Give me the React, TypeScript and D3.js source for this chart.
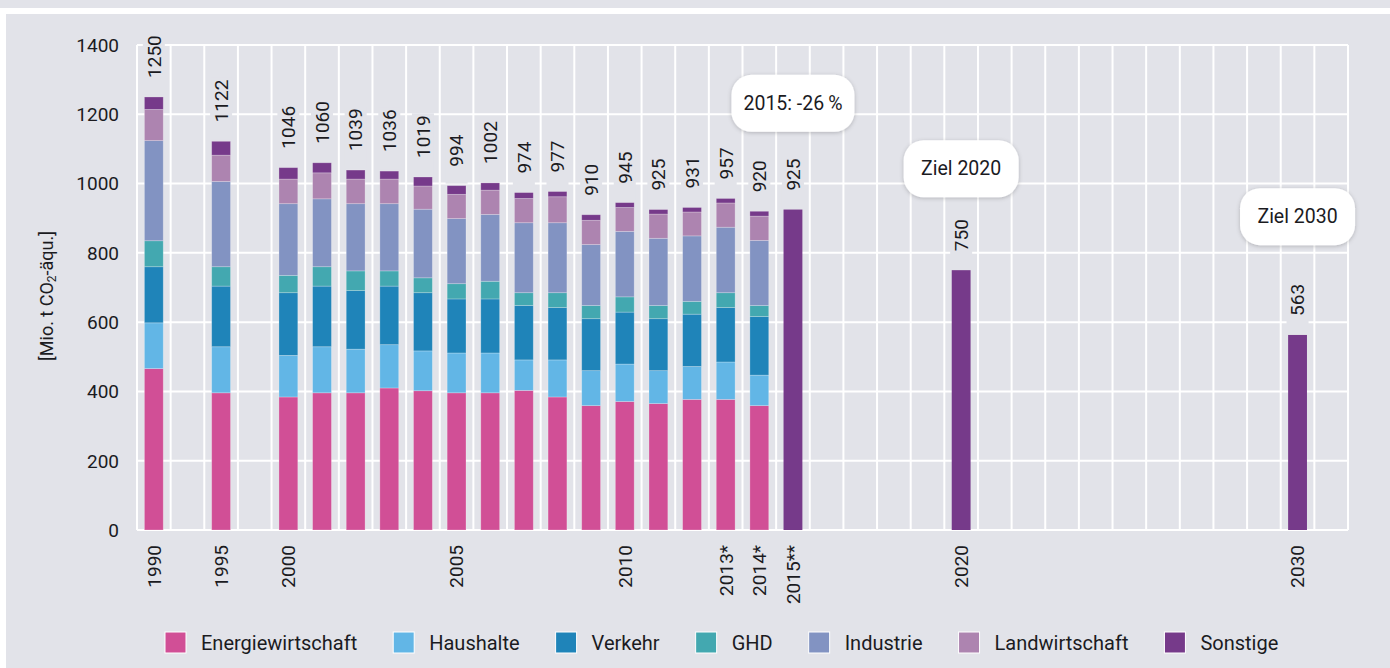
import * as d3 from "d3";
import { useEffect, useRef } from "react";

const BG = "#e2e3e9";
const TEXT = "#1b1b1f";
const FONT = "Roboto, 'Noto Sans', sans-serif";

// stacked years (bottom to top: Energiewirtschaft ... Sonstige)
const stackYears = ["1990", "1995", "2000", "2001", "2002", "2003", "2004", "2005", "2006", "2007", "2008", "2009", "2010", "2011", "2012", "2013", "2014"];
const energiewirtschaft = [466, 396, 384, 396, 396, 410, 402, 396, 396, 403, 384, 359, 371, 365, 377, 377, 359];
const haushalte = [132, 133, 120, 133, 126, 125, 115, 115, 115, 88, 107, 101, 108, 95, 95, 108, 88];
const verkehr = [162, 175, 181, 175, 169, 169, 168, 156, 156, 157, 151, 150, 150, 150, 151, 157, 169];
const ghd = [75, 56, 50, 56, 57, 44, 43, 44, 51, 37, 43, 38, 44, 38, 37, 43, 32];
const industrie = [289, 246, 207, 196, 194, 194, 198, 188, 193, 202, 202, 176, 189, 194, 189, 189, 188];
const landwirtschaft = [90, 76, 71, 75, 71, 71, 67, 70, 70, 70, 75, 70, 69, 70, 69, 70, 70];
const sonstige = [36, 40, 33, 29, 26, 23, 26, 25, 21, 17, 15, 16, 14, 13, 13, 13, 14];

// single-colour bars (estimate 2015 and targets)
const totalYears = ["2015", "2020", "2030"];
const totalValues = [925, 750, 563];

const sectorNames = ["Energiewirtschaft", "Haushalte", "Verkehr", "GHD", "Industrie", "Landwirtschaft", "Sonstige"];
const sectorColors = ["#d14f96", "#62b6e6", "#1f84b9", "#43a8b0", "#8293c2", "#ad84b0", "#763a8a"];
const sectorValues = [energiewirtschaft, haushalte, verkehr, ghd, industrie, landwirtschaft, sonstige];

// x slots: 1990, gap, 1995, gap, 2000 ... 2030, gap
const slots = ["1990", "g1", "1995", "g2", ...d3.range(2000, 2031).map(String), "g3"];
const tickYears = ["1990", "1995", "2000", "2005", "2010", "2013", "2014", "2015", "2020", "2030"];
const tickLabels = ["1990", "1995", "2000", "2005", "2010", "2013*", "2014*", "2015**", "2020", "2030"];
const yTicks = [0, 200, 400, 600, 800, 1000, 1200, 1400];

const callouts = [
  { year: "2015", text: "2015: -26\u2009%", level: 1233 },
  { year: "2020", text: "Ziel 2020", level: 1044 },
  { year: "2030", text: "Ziel 2030", level: 906 },
];

const App = () => {
  const svgRef = useRef(null);

  useEffect(() => {
    const width = 1390;
    const height = 668;
    const svg = d3.select(svgRef.current).attr("width", width).attr("height", height);
    svg.selectAll("*").remove();

    const x = d3
      .scaleBand<string>()
      .domain(slots)
      .range([137, 1348])
      .paddingInner(0.44)
      .paddingOuter(0.22);
    const y = d3.scaleLinear().domain([0, 1400]).range([530, 45]);
    const bw = x.bandwidth();
    const step = x.step();
    const cx = (s: string) => (x(s) as number) + bw / 2;

    const defs = svg.append("defs");
    const f = defs.append("filter").attr("id", "shadow").attr("x", "-20%").attr("y", "-30%").attr("width", "140%").attr("height", "160%");
    f.append("feDropShadow").attr("dx", 0).attr("dy", 1).attr("stdDeviation", 2).attr("flood-color", "#000").attr("flood-opacity", 0.22);

    // page background
    svg.append("rect").attr("width", width).attr("height", height).attr("fill", "white");
    svg.append("rect").attr("x", 0).attr("y", 0).attr("width", width).attr("height", 8).attr("fill", BG);
    svg.append("rect").attr("x", 6).attr("y", 14).attr("width", width - 6).attr("height", height - 14).attr("fill", BG);

    // grid
    const grid = svg.append("g").attr("stroke", "white").attr("stroke-width", 2);
    yTicks.forEach((t) => {
      grid.append("line").attr("x1", 137).attr("x2", 1348).attr("y1", y(t)).attr("y2", y(t));
    });
    const bounds = slots.map((s) => (x(s) as number) - step * 0.22).concat([1348]);
    bounds.forEach((b) => {
      grid.append("line").attr("x1", b).attr("x2", b).attr("y1", y(1400)).attr("y2", y(0));
    });

    // stacked bars
    const rows = stackYears.map((yr, i) => {
      const r: any = { year: yr };
      sectorNames.forEach((n, k) => (r[n] = sectorValues[k][i]));
      return r;
    });
    const series = d3.stack().keys(sectorNames)(rows);
    series.forEach((s, k) => {
      svg
        .append("g")
        .attr("fill", sectorColors[k])
        .selectAll("rect")
        .data(s)
        .join("rect")
        .attr("x", (d: any) => x(d.data.year) as number)
        .attr("width", bw)
        .attr("y", (d) => y(d[1]))
        .attr("height", (d) => y(d[0]) - y(d[1]))
        .attr("stroke", "rgba(255,255,255,0.3)")
        .attr("stroke-width", 0.8);
    });

    // total-only bars
    svg
      .append("g")
      .attr("fill", sectorColors[6])
      .selectAll("rect")
      .data(totalYears)
      .join("rect")
      .attr("x", (d) => x(d) as number)
      .attr("width", bw)
      .attr("y", (d, i) => y(totalValues[i]))
      .attr("height", (d, i) => y(0) - y(totalValues[i]));

    // value labels
    const labelled = stackYears
      .map((yr, i) => ({ year: yr, total: d3.sum(sectorValues, (v) => v[i]) }))
      .concat(totalYears.map((yr, i) => ({ year: yr, total: totalValues[i] })));
    labelled.forEach((d) => {
      const top = y(d.total);
      const base = top - 19;
      const bg = svg.append("rect").attr("fill", BG);
      const t = svg
        .append("text")
        .attr("transform", `translate(${cx(d.year)},${base}) rotate(-90)`)
        .attr("text-anchor", "start")
        .attr("dy", "0.36em")
        .attr("font-family", FONT)
        .attr("font-size", 19)
        .attr("fill", TEXT)
        .text(String(d.total));
      const len = (t.node() as SVGTextElement).getComputedTextLength();
      bg.attr("x", cx(d.year) - 11)
        .attr("width", 22)
        .attr("y", base - len - 2)
        .attr("height", len + 2 + 17);
    });

    // callouts
    callouts.forEach((c) => {
      const g = svg.append("g").attr("transform", `translate(${cx(c.year)},${y(c.level)})`);
      const r = g.append("rect").attr("fill", "white").attr("filter", "url(#shadow)");
      const t = g
        .append("text")
        .attr("text-anchor", "middle")
        .attr("dy", "0.36em")
        .attr("font-family", FONT)
        .attr("font-size", 19.5)
        .attr("fill", TEXT)
        .text(c.text);
      const len = (t.node() as SVGTextElement).getComputedTextLength();
      const w = Math.max(115, len + 24);
      r.attr("x", -w / 2).attr("y", -28).attr("width", w).attr("height", 57).attr("rx", 20);
    });

    // y axis labels
    svg
      .append("g")
      .selectAll("text")
      .data(yTicks)
      .join("text")
      .attr("x", 119)
      .attr("y", (d) => y(d))
      .attr("dy", "0.36em")
      .attr("text-anchor", "end")
      .attr("font-family", FONT)
      .attr("font-size", 19)
      .attr("fill", TEXT)
      .text((d) => String(d));

    const yt = svg
      .append("text")
      .attr("transform", "translate(47,296) rotate(-90)")
      .attr("text-anchor", "middle")
      .attr("dy", "0.36em")
      .attr("font-family", FONT)
      .attr("font-size", 18)
      .attr("fill", TEXT);
    yt.append("tspan").text("[Mio. t CO");
    yt.append("tspan").attr("font-size", 12).attr("dy", 3).text("2");
    yt.append("tspan").attr("dy", -3).text("-äqu.]");

    // x tick labels
    svg
      .append("g")
      .selectAll("text")
      .data(tickYears)
      .join("text")
      .attr("transform", (d) => `translate(${cx(d)},545) rotate(-90)`)
      .attr("text-anchor", "end")
      .attr("dy", "0.36em")
      .attr("font-family", FONT)
      .attr("font-size", 19)
      .attr("fill", TEXT)
      .text((d, i) => tickLabels[i]);

    // legend
    const legend = svg.append("g");
    let lx = 165;
    sectorNames.forEach((n, k) => {
      legend
        .append("rect")
        .attr("x", lx)
        .attr("y", 632)
        .attr("width", 21)
        .attr("height", 21)
        .attr("fill", sectorColors[k])
        .attr("stroke", "white")
        .attr("stroke-width", 1);
      const t = legend
        .append("text")
        .attr("x", lx + 36)
        .attr("y", 643)
        .attr("dy", "0.36em")
        .attr("font-family", FONT)
        .attr("font-size", 20)
        .attr("fill", TEXT)
        .text(n);
      const len = (t.node() as SVGTextElement).getComputedTextLength();
      lx += 36 + len + 36;
    });
  }, []);

  return (
    <div style={{ position: "absolute", left: 0, top: 0 }}>
      <svg ref={svgRef} style={{ display: "block" }}></svg>
    </div>
  );
};

export default App;
